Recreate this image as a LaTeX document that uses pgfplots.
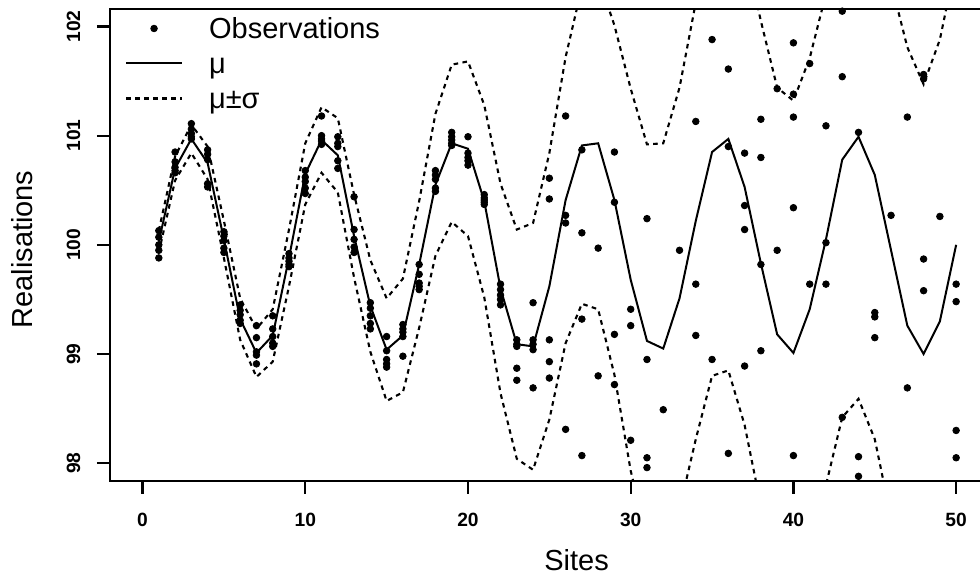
\documentclass[border=0pt]{standalone}
\usepackage{fontspec}
\setmainfont{Liberation Sans}
\usepackage{pgfplots}
\pgfplotsset{compat=1.18}
\usepackage{pgfplotstable}

\pgfplotsset{
  dotlegend/.style={legend image code/.code={\draw[##1] plot coordinates {(14pt,0pt)};}},
  linelegend/.style={legend image code/.code={\draw[##1] (0pt,0pt) -- (28pt,0pt);}},
}

\pgfplotstableread{
x mu up lo
1 100.03 100.13 99.93
2 100.70 100.81 100.59
3 100.97 101.10 100.84
4 100.75 100.90 100.60
5 100.05 100.22 99.88
6 99.32 99.51 99.13
7 99.01 99.23 98.79
8 99.17 99.41 98.93
9 99.88 100.14 99.62
10 100.65 100.93 100.37
11 100.96 101.26 100.66
12 100.82 101.16 100.48
13 100.08 100.46 99.70
14 99.44 99.86 99.02
15 99.04 99.51 98.57
16 99.17 99.69 98.65
17 99.82 100.40 99.24
18 100.55 101.20 99.90
19 100.93 101.65 100.21
20 100.88 101.68 100.08
21 100.40 101.28 99.52
22 99.60 100.56 98.64
23 99.09 100.14 98.04
24 99.07 100.20 97.94
25 99.62 100.84 98.40
26 100.41 101.72 99.10
27 100.91 102.36 99.46
28 100.93 102.45 99.41
29 100.41 102.01 98.81
30 99.68 101.43 97.93
31 99.12 100.92 97.32
32 99.05 100.93 97.17
33 99.51 101.44 97.58
34 100.22 102.22 98.22
35 100.85 102.90 98.80
36 100.97 103.09 98.85
37 100.53 102.71 98.35
38 99.83 102.05 97.61
39 99.18 101.44 96.92
40 99.01 101.32 96.70
41 99.41 101.71 97.11
42 100.05 102.30 97.80
43 100.78 103.14 98.42
44 100.99 103.39 98.59
45 100.64 103.06 98.22
46 99.95 102.40 97.50
47 99.26 101.81 96.71
48 99.00 101.47 96.53
49 99.30 101.88 96.72
50 100.00 102.60 97.40
}\bandtable

\pgfplotstableread{
x y
1 100.13
1 100.07
1 100.00
1 99.95
1 99.88
2 100.85
2 100.76
2 100.71
2 100.68
2 100.66
3 101.11
3 101.06
3 101.02
3 100.99
3 100.97
4 100.87
4 100.83
4 100.78
4 100.56
4 100.53
5 100.12
5 100.08
5 100.04
5 99.97
5 99.93
6 99.45
6 99.40
6 99.36
6 99.31
6 99.28
7 99.26
7 99.15
7 99.02
7 98.99
7 98.91
8 99.35
8 99.23
8 99.16
8 99.10
8 99.07
9 99.92
9 99.88
9 99.85
9 99.82
9 99.80
10 100.68
10 100.62
10 100.58
10 100.52
10 100.47
11 101.18
11 101.00
11 100.97
11 100.95
11 100.92
12 100.99
12 100.93
12 100.90
12 100.77
12 100.70
13 100.44
13 100.14
13 100.05
13 99.98
13 99.93
14 99.47
14 99.42
14 99.35
14 99.28
14 99.23
15 99.16
15 99.03
15 98.95
15 98.91
15 98.88
16 99.27
16 99.23
16 99.20
16 99.16
16 98.98
17 99.82
17 99.73
17 99.65
17 99.62
17 99.59
18 100.68
18 100.64
18 100.60
18 100.52
18 100.49
19 101.03
19 100.99
19 100.96
19 100.93
19 100.91
20 100.99
20 100.84
20 100.80
20 100.77
20 100.73
21 100.46
21 100.43
21 100.41
21 100.39
21 100.37
22 99.64
22 99.59
22 99.54
22 99.50
22 99.45
23 99.13
23 99.09
23 99.07
23 98.87
23 98.76
24 99.47
24 99.13
24 99.09
24 99.04
24 98.69
25 100.61
25 100.42
25 99.13
25 98.93
25 98.78
26 101.18
26 100.27
26 100.20
26 98.31
27 100.87
27 100.11
27 99.32
27 98.07
28 99.97
28 98.80
29 100.85
29 100.39
29 99.18
29 98.72
30 99.41
30 99.26
30 98.21
31 100.24
31 98.95
31 98.05
31 97.96
32 98.49
33 99.95
34 101.13
34 99.64
34 99.17
35 101.88
35 98.95
36 101.61
36 100.90
36 98.09
37 100.84
37 100.36
37 100.14
37 98.89
38 101.15
38 100.80
38 99.82
38 99.03
39 101.43
39 99.95
40 101.85
40 101.38
40 101.17
40 100.34
40 98.07
41 101.66
41 99.64
42 101.09
42 100.02
42 99.64
43 102.14
43 101.54
43 98.42
44 101.03
44 98.06
44 97.88
45 99.38
45 99.34
45 99.15
46 100.27
47 101.17
47 98.69
48 101.56
48 101.52
48 99.87
48 99.58
49 100.26
50 99.64
50 99.48
50 98.30
50 98.05
}\obstable

\begin{document}
\begin{tikzpicture}
\begin{axis}[
  scale only axis, width=439.35pt, height=235.85pt,
  xmin=-2, xmax=52, ymin=97.84, ymax=102.16,
  axis line style={line width=1.1pt},
  xtick={0,10,20,30,40,50}, ytick={98,99,100,101,102},
  xtick pos=bottom, ytick pos=left,
  tick align=outside, major tick length=6.5pt,
  every tick/.style={line width=1.1pt, black},
  ticklabel style={font=\fontsize{9.6}{9.6}\selectfont\bfseries},
  /pgf/number format/assume math mode=true,
  yticklabel style={rotate=90, anchor=center},
  yticklabel shift=11.75pt,
  xticklabel style={anchor=center},
  xticklabel shift=12.9pt,
  xlabel={Sites}, ylabel={Realisations},
  every axis x label/.style={at={(axis description cs:0.531,-0.1908)}, anchor=base, font=\fontsize{14.5}{14.5}\selectfont},
  every axis y label/.style={at={(axis description cs:-0.0884,0.49)}, rotate=90, anchor=base, font=\fontsize{14.5}{14.5}\selectfont},
  legend cell align=left,
  legend style={draw=none, fill=none, inner sep=0pt, outer sep=0pt,
    row sep=7.1pt, column sep=13pt,
    font=\fontsize{14.5}{14.5}\selectfont,
    nodes={inner sep=0pt, text height=10.4pt, text depth=0pt},
    at={(axis description cs:0.01707,0.9807)}, anchor=north west},
]
\addplot[only marks, mark=*, mark size=1.65pt, black, dotlegend]
  table[x=x, y=y] {\obstable};
\addlegendentry{Observations}
\addplot[black, line width=1pt, linelegend]
  table[x=x, y=mu] {\bandtable};
\addlegendentry{μ}
\addplot[black, line width=1.05pt, dash pattern=on 2.3pt off 2.2pt, linelegend]
  table[x=x, y=up] {\bandtable};
\addlegendentry{μ±σ}
\addplot[black, line width=1.05pt, dash pattern=on 2.3pt off 2.2pt, forget plot]
  table[x=x, y=lo] {\bandtable};
\end{axis}
\pgfresetboundingbox
\path[use as bounding box] (-55pt,-50.15pt) rectangle (435pt,240.35pt);
\end{tikzpicture}
\end{document}
